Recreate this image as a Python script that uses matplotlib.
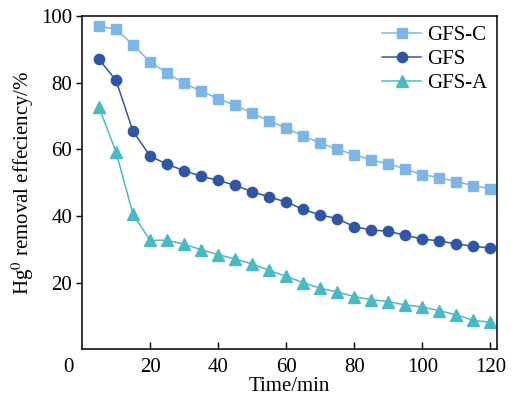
import matplotlib
matplotlib.use("Agg")
import matplotlib.pyplot as plt

time_min = [5, 10, 15, 20, 25, 30, 35, 40, 45, 50, 55, 60,
            65, 70, 75, 80, 85, 90, 95, 100, 105, 110, 115, 120]

gfs_c = [97.0, 96.0, 91.4, 86.2, 82.9, 79.8, 77.5, 75.2, 73.2, 70.9, 68.5, 66.4,
         64.0, 61.9, 60.0, 58.4, 56.8, 55.7, 54.1, 52.4, 51.5, 50.3, 49.1, 48.2]
gfs = [87.0, 80.7, 65.4, 58.0, 55.5, 53.6, 51.9, 50.7, 49.2, 47.3, 45.7, 44.2,
       42.0, 40.3, 39.2, 36.8, 35.8, 35.4, 34.2, 33.1, 32.5, 31.6, 30.9, 30.4]
gfs_a = [72.6, 59.2, 40.5, 32.7, 32.7, 31.5, 29.9, 28.4, 27.1, 25.6, 23.7, 21.9,
         20.0, 18.3, 17.2, 15.8, 14.9, 14.3, 13.3, 12.7, 11.6, 10.3, 8.7, 8.1]

x_ticks = [20, 40, 60, 80, 100, 120]
y_ticks = [20, 40, 60, 80, 100]
origin_label = '0'

plt.rcParams['font.family'] = ['Liberation Serif', 'DejaVu Serif']
plt.rcParams['mathtext.fontset'] = 'stix'

fig = plt.figure(figsize=(5.19, 4.01), dpi=100)
ax = fig.add_axes([0.158, 0.129, 0.800, 0.831])

ax.plot(time_min, gfs_c, color='#7db6e4', marker='s', markersize=7.0,
        linewidth=1.1, label='GFS-C')
ax.plot(time_min, gfs, color='#2f56a5', marker='o', markersize=7.4,
        linewidth=1.1, label='GFS')
ax.plot(time_min, gfs_a, color='#4bb9c4', marker='^', markersize=8.6,
        linewidth=1.1, label='GFS-A')

ax.set_xlim(0, 122)
ax.set_ylim(0, 100)
ax.set_xticks(x_ticks)
ax.set_yticks(y_ticks)
ax.set_xticklabels([str(v) for v in x_ticks])
ax.set_yticklabels([str(v) for v in y_ticks])

ax.tick_params(axis='x', direction='in', length=5, width=1, labelsize=15, pad=6)
ax.tick_params(axis='y', direction='out', length=4, width=1, labelsize=15, pad=3)
for s in ax.spines.values():
    s.set_linewidth(1.1)

# shared origin label, set left of the axes corner
ax.annotate(origin_label, xy=(0, 0), xycoords='axes fraction',
            xytext=(-10, -6), textcoords='offset points',
            ha='center', va='top', fontsize=15)

ax.set_xlabel('Time/min', fontsize=15, labelpad=0)
ax.set_ylabel('Hg$^0$ removal effeciency/%', fontsize=15, labelpad=4)

ax.legend(loc='upper right', frameon=False, fontsize=15, handlelength=1.9,
          handletextpad=0.3, labelspacing=0.22, borderaxespad=0.25,
          borderpad=0.2)

fig.savefig('out.png', dpi=100)
